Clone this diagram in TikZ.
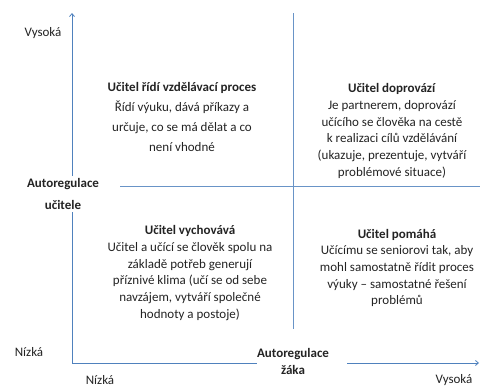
\documentclass[tikz,border=0pt]{standalone}
\usepackage{fontspec}
\setmainfont{Carlito}
\usepackage{xcolor}
\usetikzlibrary{arrows.meta, calc}
\definecolor{axisblue}{RGB}{79,129,189}
\definecolor{textgray}{RGB}{35,35,35}
\tikzset{
    axis/.style={draw=axisblue, line width=0.8pt},
    divider/.style={draw=axisblue!85, line width=1pt},
    tip/.style={-{Straight Barb[length=3pt,width=5pt]}},
    quadrant/.style={align=center, text=textgray, font=\fontsize{13}{16.7}\selectfont},
    axislabel/.style={align=center, text=textgray, font=\fontsize{13}{22}\selectfont\bfseries, inner xsep=0pt, inner ysep=2pt},
    level/.style={text=textgray, inner sep=1pt, font=\fontsize{13}{15}\selectfont}
}

\begin{document}
\begin{tikzpicture}[x=1pt, y=-1pt]
    \useasboundingbox (0,0) rectangle (480,388);

    % Axes
    \coordinate (origin) at (72,363);
    \coordinate (ytop) at (72,13);
    \coordinate (xend) at (479,363);
    \node[axislabel] (ylab) at (63,194) {Autoregulace\\učitele};
    \node[axislabel, font=\fontsize{13}{17}\selectfont\bfseries] (xlab) at (293,361) {Autoregulace\\žáka};
    \draw[axis] (origin) -- (origin |- ylab.south);
    \draw[axis, tip] (origin |- ylab.north) -- (ytop);
    \draw[axis] (origin) -- (origin -| xlab.west);
    \draw[axis, tip] ($(origin -| xlab.east)+(18,0)$) -- (xend);

    % Levels
    \node[level] (yhigh) at (43,33) {Vysoká};
    \node[level] (ylow) at (29,352) {Nízká};
    \node[level] (xlow) at (100,380) {Nízká};
    \node[level] (xhigh) at (454,380) {Vysoká};

    % Dividers
    \coordinate (hleft) at (120,186);
    \coordinate (hright) at (480,186);
    \coordinate (vtop) at (293,13);
    \coordinate (vbottom) at (293,329);
    \draw[divider] (hleft) -- (hright);
    \draw[divider] (vtop) -- (vbottom);

    % Quadrants
    \node[quadrant, font=\fontsize{13}{20}\selectfont] (ridi) at (182,117) {\textbf{Učitel řídí vzdělávací proces}\\Řídí výuku, dává příkazy a\\určuje, co se má dělat a co\\není vhodné};
    \node[quadrant] (doprovazi) at (392,131) {\textbf{Učitel doprovází}\\Je partnerem, doprovází\\učícího se člověka na cestě\\k realizaci cílů vzdělávání\\(ukazuje, prezentuje, vytváří\\problémové situace)};
    \node[quadrant] (vychovava) at (190,273) {\textbf{Učitel vychovává}\\Učitel a učící se člověk spolu na\\základě potřeb generují\\příznivé klima (učí se od sebe\\navzájem, vytváří společné\\hodnoty a postoje)};
    \node[quadrant] (pomaha) at (397,268) {\textbf{Učitel pomáhá}\\Učícímu se seniorovi tak, aby\\mohl samostatně řídit proces\\výuky -- samostatné řešení\\problémů};
\end{tikzpicture}
\end{document}
